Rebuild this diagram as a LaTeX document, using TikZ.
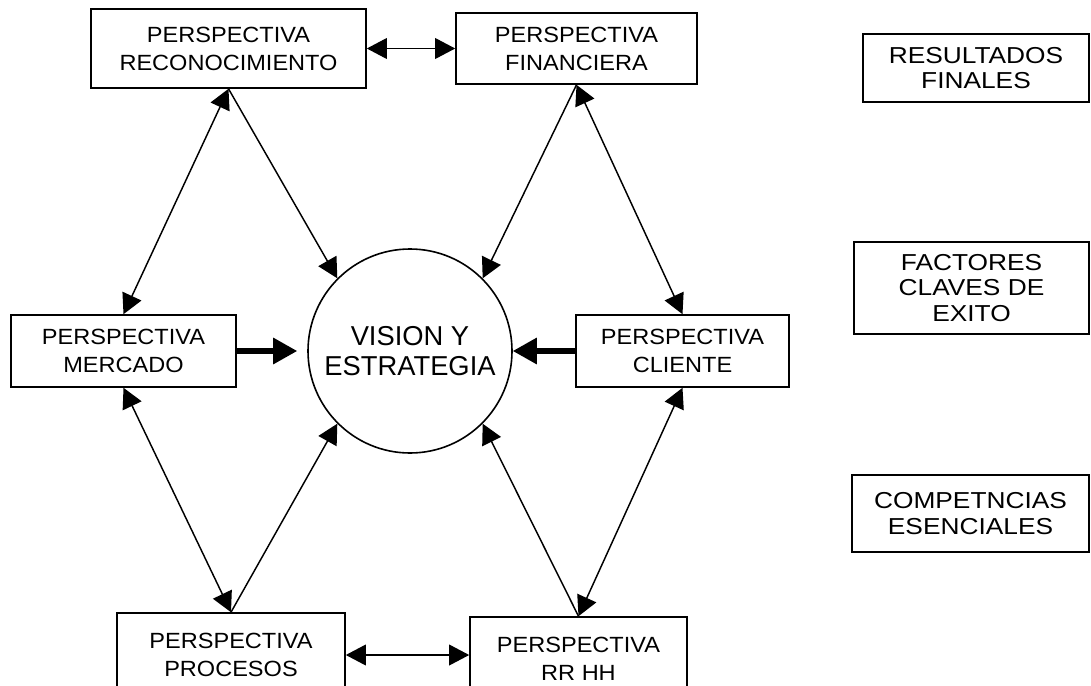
\documentclass[tikz,border=0pt]{standalone}
\usepackage{fontspec}
\setmainfont{Liberation Sans}
\newfontfamily\boxfont[FakeStretch=1.07]{Liberation Sans}
\newfontfamily\sidefont[FakeStretch=1.14]{Liberation Sans}
\usetikzlibrary{arrows.meta,calc}

\begin{document}
\begin{tikzpicture}[x=0.75pt,y=-0.75pt,
  persp/.style={draw, line width=1.2pt, rectangle, inner sep=0pt, align=center,
    font=\boxfont\fontsize{16.5}{21}\selectfont},
  side/.style={draw, line width=1.2pt, rectangle, inner sep=0pt, align=center,
    font=\sidefont\fontsize{17.3}{19}\selectfont},
  hub/.style={draw, circle, line width=1.2pt, minimum size=153pt, inner sep=0pt,
    align=center, font=\fontsize{20.5}{22.5}\selectfont},
  tip/.tip={Triangle[length=15pt,width=15.5pt]},
  link/.style={line width=1.1pt, -tip},
  both/.style={line width=1.1pt, tip-tip},
  push/.style={line width=3.8pt, -{Triangle[length=18pt,width=19pt]}}
]
\fill[white] (0,0) rectangle (1091,685);
\useasboundingbox (0,0) rectangle (1091,685);
\clip (0,0) rectangle (1091,685);

% centre
\node[hub] (vis) at (410,351) {VISION Y\\ESTRATEGIA};

% the six perspectives
\node[persp, minimum width=206.25pt, minimum height=59.25pt] (rec) at (228.5,48.5) {PERSPECTIVA\\RECONOCIMIENTO};
\node[persp, minimum width=180.75pt, minimum height=53.25pt] (fin) at (576.5,48.5) {PERSPECTIVA\\FINANCIERA};
\node[persp, minimum width=168.75pt, minimum height=54pt] (mer) at (123.5,351) {PERSPECTIVA\\MERCADO};
\node[persp, minimum width=159.75pt, minimum height=54pt] (cli) at (682.5,351) {PERSPECTIVA\\CLIENTE};
\node[persp, minimum width=171pt, minimum height=63pt] (pro) at (231,655) {PERSPECTIVA\\PROCESOS};
\node[persp, minimum width=162.75pt, minimum height=63pt] (rr) at (578.5,659) {PERSPECTIVA\\RR HH};

% levels on the right
\node[side, minimum width=169.5pt, minimum height=51pt] (res) at (976,68) {RESULTADOS\\FINALES};
\node[side, minimum width=176.25pt, minimum height=69pt] (fac) at (971.5,288) {FACTORES\\CLAVES DE\\EXITO};
\node[side, minimum width=177.75pt, minimum height=57.75pt] (com) at (970.5,513.5) {COMPETNCIAS\\ESENCIALES};

% connectors
\draw[both] (rec.east) -- (fin.west);
\draw[both] (pro.east) -- (pro.east -| rr.west);
\draw[both] (rec.south) -- (mer.north);
\draw[both] (fin.south) -- (cli.north);
\draw[both] (mer.south) -- (pro.north);
\draw[both] (cli.south) -- (rr.north);
\draw[link] (rec.south) -- (vis.135);
\draw[link] (fin.south) -- (vis.45);
\draw[link] (pro.north) -- (vis.-135);
\draw[link] (rr.north) -- (vis.-45);
\draw[push] (mer.east) -- ($(vis.west)+(-10,0)$);
\draw[push] (cli.west) -- (vis.east);
\end{tikzpicture}
\end{document}
